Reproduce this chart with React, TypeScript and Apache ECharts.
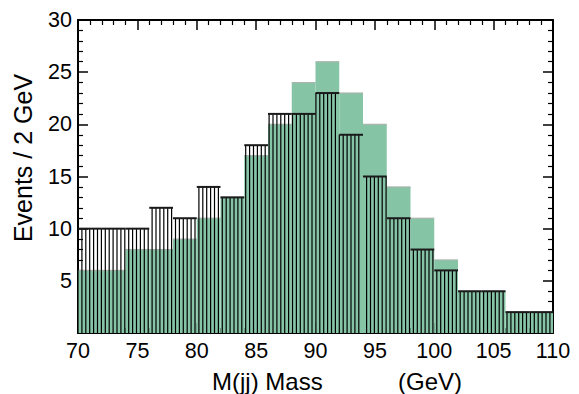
import React, { useEffect, useRef } from "react";
import * as echarts from "echarts";

const binLow = [70, 72, 74, 76, 78, 80, 82, 84, 86, 88, 90, 92, 94, 96, 98, 100, 102, 104, 106, 108];
const binWidth = 2;
const greenValues = [6, 6, 8, 8, 9, 11, 13, 17, 20, 24, 26, 23, 20, 14, 11, 7, 4, 4, 2, 2];
const hatchValues = [10, 10, 10, 12, 11, 14, 13, 18, 21, 21, 23, 19, 15, 11, 8, 6, 4, 4, 2, 2];
const xTitle = "M(jj) Mass";
const xUnit = "(GeV)";
const yTitle = "Events / 2 GeV";

const FONT = "'Liberation Sans', Arial, Helvetica, sans-serif";
const GREEN = "#86c4a6";

export default function App() {
  const ref = useRef<HTMLDivElement>(null);
  useEffect(() => {
    if (!ref.current) return;
    const chart = echarts.init(ref.current, null, { renderer: "svg" });
    const greenData = binLow.map((x, i) => [x, x + binWidth, greenValues[i]]);
    const hatchData = binLow.map((x, i) => [x, x + binWidth, hatchValues[i]]);
    const hatchSpacing = 3.9;

    const axisCommon = {
      type: "value",
      axisLine: { show: true, onZero: false, lineStyle: { color: "#000", width: 2 } },
      axisTick: { show: true, inside: true, length: 10, lineStyle: { color: "#000", width: 1.5 } },
      minorTick: { show: true, splitNumber: 5, length: 5, lineStyle: { color: "#000", width: 1.2 } },
      splitLine: { show: false },
      minorSplitLine: { show: false },
    };

    chart.setOption({
      animation: false,
      backgroundColor: "#fff",
      grid: { left: 78, right: 26, top: 20, bottom: 61 },
      xAxis: [
        {
          ...axisCommon,
          position: "bottom",
          min: 70,
          max: 110,
          interval: 5,
          axisLabel: { show: true, color: "#000", fontSize: 21.5, fontFamily: FONT, margin: 7 },
        },
        {
          ...axisCommon,
          position: "top",
          min: 70,
          max: 110,
          interval: 5,
          axisLabel: { show: false },
        },
      ],
      yAxis: [
        {
          ...axisCommon,
          position: "left",
          min: 0,
          max: 30,
          interval: 5,
          axisLabel: {
            show: true,
            color: "#000",
            fontSize: 21.5,
            fontFamily: FONT,
            margin: 6,
            formatter: (v: number) => (v === 0 ? "" : String(v)),
          },
        },
        {
          ...axisCommon,
          position: "right",
          min: 0,
          max: 30,
          interval: 5,
          axisLabel: { show: false },
        },
      ],
      graphic: [
        {
          type: "text",
          x: 23,
          y: 158,
          rotation: Math.PI / 2,
          style: { text: yTitle, font: `25px ${FONT}`, fill: "#000", align: "center", verticalAlign: "middle" },
        },
        {
          type: "text",
          x: 212,
          y: 381,
          style: { text: xTitle, font: `24px ${FONT}`, fill: "#000", align: "left", verticalAlign: "middle" },
        },
        {
          type: "text",
          x: 398,
          y: 381,
          style: { text: xUnit, font: `24px ${FONT}`, fill: "#000", align: "left", verticalAlign: "middle" },
        },
      ],
      series: [
        {
          type: "custom",
          name: "green",
          xAxisIndex: 0,
          yAxisIndex: 0,
          data: greenData,
          encode: { x: [0, 1], y: 2 },
          clip: true,
          renderItem: (params: any, api: any) => {
            const x0 = api.value(0);
            const x1 = api.value(1);
            const v = api.value(2);
            const p0 = api.coord([x0, 0]);
            const p1 = api.coord([x1, v]);
            return {
              type: "group",
              children: [
                {
                  type: "rect",
                  shape: { x: p0[0], y: p1[1], width: p1[0] - p0[0], height: p0[1] - p1[1] },
                  style: { fill: GREEN },
                },
                {
                  type: "line",
                  shape: { x1: p0[0], y1: p1[1], x2: p1[0], y2: p1[1] },
                  style: { stroke: "#a9b5ae", lineWidth: 1.2 },
                },
              ],
            };
          },
        },
        {
          type: "custom",
          name: "hatched",
          xAxisIndex: 0,
          yAxisIndex: 0,
          data: hatchData,
          encode: { x: [0, 1], y: 2 },
          clip: true,
          renderItem: (params: any, api: any) => {
            const x0 = api.value(0);
            const x1 = api.value(1);
            const v = api.value(2);
            const origin = api.coord([70, 0])[0];
            const p0 = api.coord([x0, 0]);
            const p1 = api.coord([x1, v]);
            const children: any[] = [];
            let k = Math.ceil((p0[0] - origin) / hatchSpacing - 1e-6);
            for (; origin + k * hatchSpacing < p1[0] - 0.3; k++) {
              const xx = origin + k * hatchSpacing;
              children.push({
                type: "line",
                shape: { x1: xx, y1: p0[1], x2: xx, y2: p1[1] },
                style: { stroke: "#000", lineWidth: 1.2 },
              });
            }
            children.push({
              type: "line",
              shape: { x1: p0[0], y1: p1[1], x2: p1[0], y2: p1[1] },
              style: { stroke: "#1a1a1a", lineWidth: 2 },
            });
            return { type: "group", children };
          },
        },
      ],
    });
    return () => chart.dispose();
  }, []);
  return (
    <div
      ref={ref}
      style={{ position: "absolute", left: 0, top: 0, width: 579, height: 394, overflow: "hidden" }}
    />
  );
}
